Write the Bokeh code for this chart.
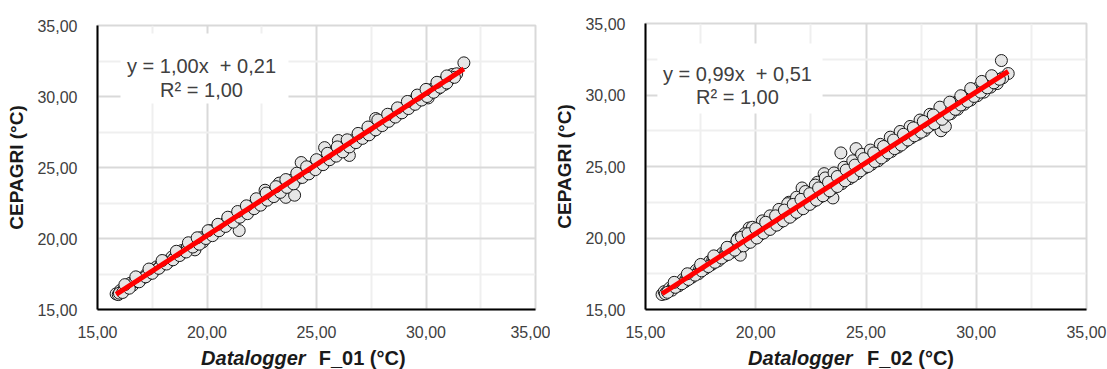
from bokeh.plotting import figure
from bokeh.layouts import row, column
from bokeh.models import FixedTicker, Label, BoxAnnotation, Range1d
from bokeh.core.properties import value
from bokeh.embed import file_html
from bokeh.resources import INLINE

# ---------------- data ----------------
tick_values = [15, 20, 25, 30, 35]
tick_labels = ["15,00", "20,00", "25,00", "30,00", "35,00"]
minor_values = [17.5, 22.5, 27.5, 32.5]

# Datalogger F_01 vs CEPAGRI
x_f01 = [15.85, 15.95, 16.05, 16.2, 16.35, 16.5, 16.6, 16.8, 16.95, 17.1, 17.25, 17.4, 17.55, 17.7, 17.85,
         18.0, 18.1, 18.25, 18.4, 18.55, 18.7, 18.85, 19.0, 19.1, 19.25, 19.4, 19.5, 19.6, 19.75, 19.9,
         20.0, 20.15, 20.3, 20.45, 20.6, 20.75, 20.9, 21.0, 21.15, 21.3, 21.47, 21.6, 21.75, 21.9, 22.05,
         22.2, 22.35, 22.5, 22.65, 22.8, 22.95, 23.1, 23.3, 23.4, 23.6, 23.7, 23.85, 24.0, 24.15, 24.3,
         24.45, 24.6, 24.75, 24.9, 25.05, 25.2, 25.37, 25.5, 25.65, 25.8, 25.95, 26.0, 26.1, 26.25, 26.4,
         26.5, 26.55, 26.7, 26.85, 27.0, 27.15, 27.3, 27.45, 27.6, 27.7, 27.75, 27.9, 28.05, 28.2, 28.35,
         28.5, 28.65, 28.8, 28.95, 29.1, 29.25, 29.4, 29.55, 29.7, 29.85, 30.0, 30.1, 30.15, 30.3, 30.45,
         30.6, 30.75, 30.9, 31.05, 31.2, 31.4, 31.73,
         16.0, 16.3, 16.7, 17.0, 17.3, 17.6, 17.9, 18.2, 18.5, 18.8, 19.2, 19.45, 19.7, 19.8, 20.1, 20.4,
         20.7, 21.05, 21.35, 21.7, 22.0, 22.3, 22.6, 22.9, 23.2, 23.5, 23.8, 24.2, 24.5, 24.8, 25.1, 25.45,
         25.75, 26.05, 26.35, 26.65, 26.95, 27.25, 27.55, 27.85, 28.15, 28.45, 28.75, 29.05, 29.35, 29.65,
         29.95, 30.25, 30.55, 30.85, 31.1,
         16.15, 16.45, 16.9, 17.2, 17.5, 17.8, 18.15, 18.45, 18.75, 19.05, 19.35, 19.65, 19.95, 20.25, 20.55,
         20.85, 21.2, 21.5, 21.85, 22.15, 22.45, 22.75, 23.05, 23.35, 23.65, 23.95, 24.35, 24.65, 24.95, 25.3,
         25.6, 25.9, 26.2, 26.5, 26.8, 27.1, 27.4, 27.7, 28.0, 28.3, 28.6, 28.9, 29.2, 29.5, 29.8, 30.05,
         30.35, 30.65, 30.95, 31.3,
         16.25, 16.75, 17.35, 17.95, 18.6, 19.15, 19.55, 20.05, 20.5, 20.95, 21.4, 21.8, 22.25, 22.7, 23.15,
         23.6, 24.1, 24.55, 25.0, 25.5, 25.95, 26.4, 26.9, 27.35, 27.8, 28.25, 28.7, 29.15, 29.6, 30.0,
         30.5, 30.95]
y_f01 = [16.10, 16.05, 16.35, 16.40, 16.60, 16.85, 16.70, 17.05, 17.20, 17.25, 17.50, 17.55, 17.85, 18.00, 18.00,
         18.25, 18.40, 18.40, 18.70, 18.70, 18.95, 19.15, 19.15, 19.40, 19.35, 19.70, 19.55, 19.95, 19.85, 20.10,
         20.25, 20.55, 20.40, 20.75, 20.85, 20.95, 21.20, 21.10, 21.45, 21.55, 20.56, 21.85, 21.95, 22.20, 22.15,
         22.50, 22.70, 22.60, 23.40, 23.05, 23.10, 23.40, 23.90, 23.55, 22.90, 23.95, 24.10, 23.05, 24.40, 25.35,
         24.65, 24.80, 24.90, 25.20, 25.25, 25.45, 26.40, 25.70, 25.85, 26.10, 26.20, 26.90, 26.30, 26.45, 26.65,
         25.85, 26.75, 26.95, 27.05, 27.25, 27.35, 27.55, 27.60, 27.85, 28.45, 27.95, 28.15, 28.25, 28.45, 28.50,
         28.75, 28.85, 29.05, 29.15, 29.35, 29.45, 29.70, 29.80, 30.00, 30.00, 30.25, 29.90, 30.45, 30.50, 30.70,
         30.80, 31.00, 31.10, 31.20, 31.55, 31.60, 32.37,
         16.15, 16.45, 16.95, 17.15, 17.45, 17.75, 18.15, 18.30, 18.60, 18.90, 19.30, 19.20, 20.05, 19.75, 20.20, 20.55,
         20.80, 21.30, 21.40, 21.80, 22.05, 22.40, 22.70, 22.90, 23.25, 23.60, 23.85, 24.25, 24.55, 24.95, 25.15, 25.50,
         25.85, 26.15, 26.40, 26.70, 27.00, 27.30, 27.55, 27.95, 28.25, 28.50, 28.80, 29.10, 29.40, 29.70,
         30.05, 30.30, 30.55, 30.85, 31.25,
         16.20, 16.50, 16.95, 17.30, 17.55, 17.90, 18.20, 18.50, 18.80, 19.05, 19.40, 19.60, 20.00, 20.20, 20.55,
         20.85, 21.15, 21.50, 21.75, 22.10, 22.35, 22.70, 22.95, 23.25, 23.60, 23.85, 24.30, 24.55, 24.85, 25.20,
         25.55, 25.80, 26.10, 26.45, 26.75, 27.05, 27.30, 27.65, 27.95, 28.25, 28.55, 28.85, 29.15, 29.45, 29.75, 30.00,
         30.30, 30.65, 30.95, 31.35,
         16.75, 17.30, 17.85, 18.45, 19.10, 19.70, 20.05, 20.55, 21.00, 21.50, 21.90, 22.30, 22.80, 23.20, 23.65,
         24.15, 24.60, 25.05, 25.55, 26.00, 26.45, 26.95, 27.40, 27.85, 28.35, 28.75, 29.20, 29.65, 30.10, 30.50,
         31.00, 31.45]

# Datalogger F_02 vs CEPAGRI
x_f02 = [15.75, 15.85, 15.95, 16.1, 16.25, 16.4, 16.55, 16.7, 16.85, 17.0, 17.15, 17.3, 17.45, 17.6, 17.75,
         17.9, 18.05, 18.2, 18.35, 18.5, 18.65, 18.8, 18.95, 19.1, 19.2, 19.3, 19.4, 19.55, 19.7, 19.8,
         19.95, 20.1, 20.25, 20.4, 20.55, 20.7, 20.85, 21.0, 21.15, 21.3, 21.5, 21.6, 21.75, 21.9, 22.1,
         22.2, 22.35, 22.5, 22.65, 22.8, 22.95, 23.1, 23.25, 23.4, 23.5, 23.6, 23.75, 23.86, 24.0, 24.15,
         24.3, 24.45, 24.55, 24.7, 24.85, 25.0, 25.15, 25.3, 25.45, 25.6, 25.75, 25.9, 26.05, 26.2, 26.35,
         26.5, 26.65, 26.8, 26.95, 27.1, 27.25, 27.4, 27.55, 27.7, 27.85, 28.0, 28.15, 28.3, 28.4, 28.5,
         28.65, 28.8, 28.95, 29.1, 29.25, 29.4, 29.55, 29.7, 29.85, 30.0, 30.15, 30.3, 30.45, 30.6, 30.75,
         30.9, 31.14, 31.45,
         15.9, 16.2, 16.5, 16.8, 17.1, 17.4, 17.7, 18.0, 18.3, 18.6, 18.9, 19.25, 19.6, 19.9, 20.2, 20.5,
         20.8, 21.1, 21.4, 21.7, 22.0, 22.3, 22.6, 22.9, 23.2, 23.55, 23.9, 24.25, 24.6, 24.95, 25.25, 25.55,
         25.85, 26.15, 26.45, 26.75, 27.05, 27.35, 27.65, 27.95, 28.25, 28.6, 28.85, 29.15, 29.45, 29.75,
         30.05, 30.35, 30.65, 30.95, 31.2,
         16.0, 16.35, 16.65, 16.95, 17.25, 17.55, 17.85, 18.15, 18.45, 18.75, 19.05, 19.45, 19.75, 20.05, 20.35,
         20.65, 20.95, 21.25, 21.55, 21.85, 22.15, 22.45, 22.75, 23.05, 23.35, 23.7, 24.05, 24.4, 24.75, 25.1,
         25.4, 25.7, 26.0, 26.3, 26.6, 26.9, 27.2, 27.5, 27.8, 28.1, 28.45, 28.75, 29.05, 29.3, 29.6, 29.9,
         30.2, 30.5, 30.8, 31.05,
         16.3, 16.9, 17.5, 18.1, 18.7, 19.15, 19.5, 19.85, 20.3, 20.65, 21.05, 21.45, 21.85, 22.25, 22.7,
         23.15, 23.55, 24.0, 24.4, 24.8, 25.2, 25.65, 26.1, 26.55, 27.0, 27.45, 27.9, 28.35, 28.8, 29.3,
         29.75, 30.25, 30.7,
         19.35, 19.65, 20.0, 20.45, 20.9, 21.3, 21.7, 22.05, 22.45, 22.85, 23.3, 23.7, 24.1, 24.5, 24.9,
         25.35, 25.8, 26.25, 26.7, 27.15, 27.6, 28.05]
y_f02 = [16.05, 16.25, 16.20, 16.50, 16.55, 16.80, 16.85, 17.10, 17.15, 17.45, 17.50, 17.75, 17.80, 18.05, 18.10,
         18.35, 18.45, 18.55, 18.75, 18.95, 19.05, 19.20, 19.40, 19.50, 20.00, 18.80, 19.75, 19.95, 20.70, 20.20,
         20.35, 20.55, 20.60, 21.00, 20.95, 21.35, 21.25, 21.40, 21.80, 21.75, 22.50, 22.00, 22.20, 22.40, 23.50,
         22.70, 22.75, 23.00, 23.05, 23.90, 23.40, 24.50, 23.70, 24.00, 22.80, 24.10, 24.40, 25.95, 24.60, 24.50,
         25.00, 24.90, 26.25, 25.15, 25.40, 25.35, 25.60, 25.75, 25.80, 26.10, 26.15, 26.40, 26.55, 26.60, 26.90,
         27.20, 27.05, 27.10, 27.35, 27.50, 27.60, 27.75, 28.10, 28.05, 28.30, 28.35, 28.55, 28.70, 27.50, 28.85,
         29.00, 29.10, 29.30, 29.50, 29.65, 29.80, 29.95, 30.05, 30.25, 30.35, 30.60, 30.65, 30.80, 30.95, 31.05,
         31.10, 32.41, 31.50,
         16.10, 16.35, 16.65, 16.95, 17.25, 17.50, 17.85, 18.15, 18.40, 18.75, 19.00, 19.40, 19.65, 19.95, 20.25, 20.55,
         20.85, 21.10, 21.45, 21.65, 22.00, 22.30, 22.55, 22.85, 23.15, 23.50, 23.80, 24.15, 24.50, 24.90, 25.15, 25.40,
         25.75, 26.05, 26.35, 26.70, 27.00, 27.25, 27.50, 27.90, 28.10, 27.80, 28.70, 29.00, 29.35, 29.65,
         29.95, 30.20, 30.55, 30.80, 31.20,
         16.20, 16.55, 16.80, 17.10, 17.40, 17.70, 18.00, 18.30, 18.60, 18.85, 19.15, 19.45, 19.70, 20.00, 20.35,
         20.60, 20.90, 21.20, 21.45, 21.80, 22.05, 22.35, 22.65, 22.95, 23.30, 23.60, 24.00, 24.30, 24.70, 25.00,
         25.35, 25.60, 25.95, 26.25, 26.50, 26.85, 27.15, 27.40, 27.75, 28.00, 28.30, 28.65, 29.00, 29.30, 29.55, 29.90,
         30.20, 30.50, 30.85, 31.10,
         16.90, 17.50, 18.15, 18.75, 19.35, 19.85, 20.30, 20.75, 21.20, 21.55, 22.00, 22.40, 22.85, 23.25, 23.70,
         24.20, 24.55, 24.95, 25.40, 25.85, 26.15, 26.55, 27.05, 27.45, 27.80, 28.25, 28.65, 29.15, 29.50, 29.95,
         30.45, 30.95, 31.35,
         20.05, 20.30, 20.65, 21.10, 21.55, 21.95, 22.35, 22.70, 23.10, 23.50, 23.90, 24.30, 24.75, 25.10, 25.55,
         25.95, 26.40, 26.85, 27.25, 27.70, 28.15, 28.60]

fit_f01 = {"slope": 1.00, "intercept": 0.21,
           "eq": "y = 1,00x\u00a0\u00a0+ 0,21", "r2": "R² = 1,00"}
fit_f02 = {"slope": 0.99, "intercept": 0.51,
           "eq": "y = 0,99x\u00a0\u00a0+ 0,51", "r2": "R² = 1,00"}

FONT = "Liberation Sans"
MAIN_H = 345
LAB_H = 369 - MAIN_H


def make_panel(xs, ys, fit, name, width, border_left, border_right, border_top,
               box, eq_pos, xlabel_split):
    p = figure(width=width, height=MAIN_H, output_backend="svg", toolbar_location=None,
               x_range=Range1d(15, 35), y_range=Range1d(15, 35),
               min_border_left=border_left, min_border_right=border_right,
               min_border_top=border_top, min_border_bottom=MAIN_H - 309)
    p.background_fill_color = "white"
    p.border_fill_color = "white"
    p.outline_line_color = "#d9d9d9"
    p.outline_line_width = 2

    for ax in (p.xaxis[0], p.yaxis[0]):
        ax.ticker = FixedTicker(ticks=tick_values, minor_ticks=minor_values)
        ax.major_label_overrides = {v: l for v, l in zip(tick_values, tick_labels)}
        ax.axis_line_color = "black"
        ax.axis_line_width = 2
        ax.major_tick_line_color = None
        ax.minor_tick_line_color = None
        ax.major_label_text_font = FONT
        ax.major_label_text_font_size = "16px"
        ax.major_label_text_color = "#404040"
    p.xaxis.major_label_standoff = 10
    p.yaxis.major_label_standoff = 14

    p.yaxis.axis_label = "CEPAGRI (°C)"
    p.yaxis.axis_label_text_font = FONT
    p.yaxis.axis_label_text_font_style = "bold"
    p.yaxis.axis_label_text_font_size = "19px"
    p.yaxis.axis_label_text_color = "#1a1a1a"
    p.yaxis.axis_label_standoff = 7

    for g in (p.xgrid[0], p.ygrid[0]):
        g.grid_line_color = "#d9d9d9"
        g.grid_line_width = 2
        g.minor_grid_line_color = "#efefef"
        g.minor_grid_line_width = 2

    # white box behind the equation
    p.add_layout(BoxAnnotation(left=box[0], right=box[1], bottom=box[2], top=box[3],
                               fill_color="white", fill_alpha=1.0, line_color=None,
                               level="underlay"))

    p.scatter(xs, ys, size=12, marker="circle", fill_color="#e6e6e6",
              line_color="#1a1a1a", line_width=1)

    x0, x1 = min(xs), max(xs)
    p.line([x0, x1], [fit["slope"] * x0 + fit["intercept"], fit["slope"] * x1 + fit["intercept"]],
           line_color="#ff0000", line_width=5)

    p.add_layout(Label(x=eq_pos[0], y=eq_pos[1], text=fit["eq"], text_align="center",
                       text_baseline="middle", text_font=FONT, text_font_size="20px",
                       text_color="#404040"))
    p.add_layout(Label(x=eq_pos[0], y=eq_pos[2], text=fit["r2"], text_align="center",
                       text_baseline="middle", text_font=FONT, text_font_size="20px",
                       text_color="#404040"))

    # x axis label panel: "Datalogger" (bold italic) + "F_xx (°C)" (bold)
    lab = figure(width=width, height=LAB_H, output_backend="svg", toolbar_location=None,
                 x_range=Range1d(15, 35), y_range=Range1d(0, 1),
                 x_axis_type=None, y_axis_type=None,
                 min_border_left=border_left, min_border_right=border_right,
                 min_border_top=0, min_border_bottom=0)
    lab.outline_line_color = None
    lab.background_fill_color = "white"
    lab.border_fill_color = "white"
    lab.text(x=[xlabel_split[0]], y=[0.5], text=["Datalogger"], text_align="right",
             text_baseline="middle", text_font=value(FONT), text_font_size="20px",
             text_font_style="bold italic", text_color="#1a1a1a")
    lab.text(x=[xlabel_split[1]], y=[0.5], text=[name + " (°C)"], text_align="left",
             text_baseline="middle", text_font=value(FONT), text_font_size="20px",
             text_font_style="bold", text_color="#1a1a1a")
    return column(p, lab)


p1 = make_panel(x_f01, y_f01, fit_f01, "F_01", 550, 97, 15, 25,
                (16.05, 23.72, 29.5, 34.44), (19.75, 32.18, 30.49), (24.5, 25.1))
p2 = make_panel(x_f02, y_f02, fit_f02, "F_02", 557, 95, 21, 23,
                (15.54, 23.03, 28.7, 33.6), (19.17, 31.5, 29.83), (24.39, 25.05))

layout = row(p1, p2)
open("out.html", "w").write(file_html(layout, INLINE))
